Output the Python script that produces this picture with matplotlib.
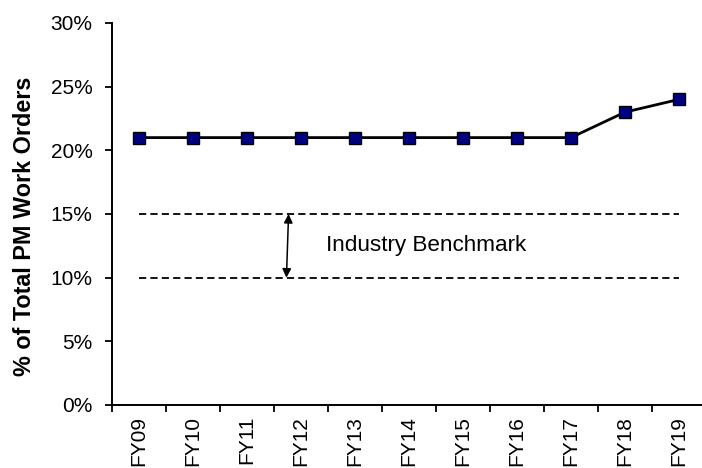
import matplotlib
matplotlib.use("Agg")
import matplotlib.pyplot as plt
from matplotlib.ticker import FuncFormatter, FixedLocator

plt.rcParams['font.family'] = ['Liberation Sans', 'DejaVu Sans']

# Fiscal years and share of PM work orders
years = ["FY09", "FY10", "FY11", "FY12", "FY13", "FY14", "FY15", "FY16", "FY17", "FY18", "FY19"]
pm_share = [0.21, 0.21, 0.21, 0.21, 0.21, 0.21, 0.21, 0.21, 0.21, 0.23, 0.24]

# Industry benchmark band
bench_low = 0.10
bench_high = 0.15
bench_label = "Industry Benchmark"

fig = plt.figure(figsize=(7.02, 4.68), dpi=100)
ax = fig.add_axes([112 / 702, 63 / 468, 594 / 702, 382 / 468])

x = list(range(len(years)))

# benchmark dashed lines
for yv in (bench_high, bench_low):
    ln, = ax.plot([x[0], x[-1]], [yv, yv], color="black", lw=1.3)
    ln.set_dashes((4, 2.3))

# double-headed arrow between benchmark lines
ax.annotate("", xy=(2.73, bench_low), xytext=(2.77, bench_high),
            arrowprops=dict(arrowstyle="<|-|>", color="black", lw=1.1,
                            mutation_scale=13, shrinkA=0, shrinkB=0))
ax.text(3.47, (bench_low + bench_high) / 2, bench_label, fontsize=16.2,
        ha="left", va="center")

# PM work order series
ax.plot(x, pm_share, color="black", lw=2, marker="s", markersize=8.7,
        markerfacecolor="#000080", markeredgecolor="black", markeredgewidth=1,
        zorder=3)

ax.set_xlim(-0.5, len(years) - 0.5)
ax.set_ylim(0, 0.30)
ax.set_yticks([0, 0.05, 0.10, 0.15, 0.20, 0.25, 0.30])
ax.yaxis.set_major_formatter(FuncFormatter(lambda v, p: f"{v * 100:.0f}%"))

# category labels centred, tick marks on category boundaries
ax.set_xticks(x)
ax.set_xticklabels(years, rotation=90)
ax.xaxis.set_minor_locator(FixedLocator([i - 0.5 for i in range(len(years) + 1)]))
ax.tick_params(axis="x", which="major", length=0, pad=8, labelsize=15)
ax.tick_params(axis="x", which="minor", length=5, width=1.3, direction="out")
ax.tick_params(axis="y", length=5, width=1.3, direction="out", labelsize=15, pad=9)

for s in ("top", "right"):
    ax.spines[s].set_visible(False)
for s in ("left", "bottom"):
    ax.spines[s].set_linewidth(1.4)

ax.set_ylabel("% of Total PM Work Orders", fontsize=16.8, fontweight="bold", va="center")
ax.yaxis.set_label_coords(-0.1465, 0.469)

fig.savefig("out.png", dpi=100)
